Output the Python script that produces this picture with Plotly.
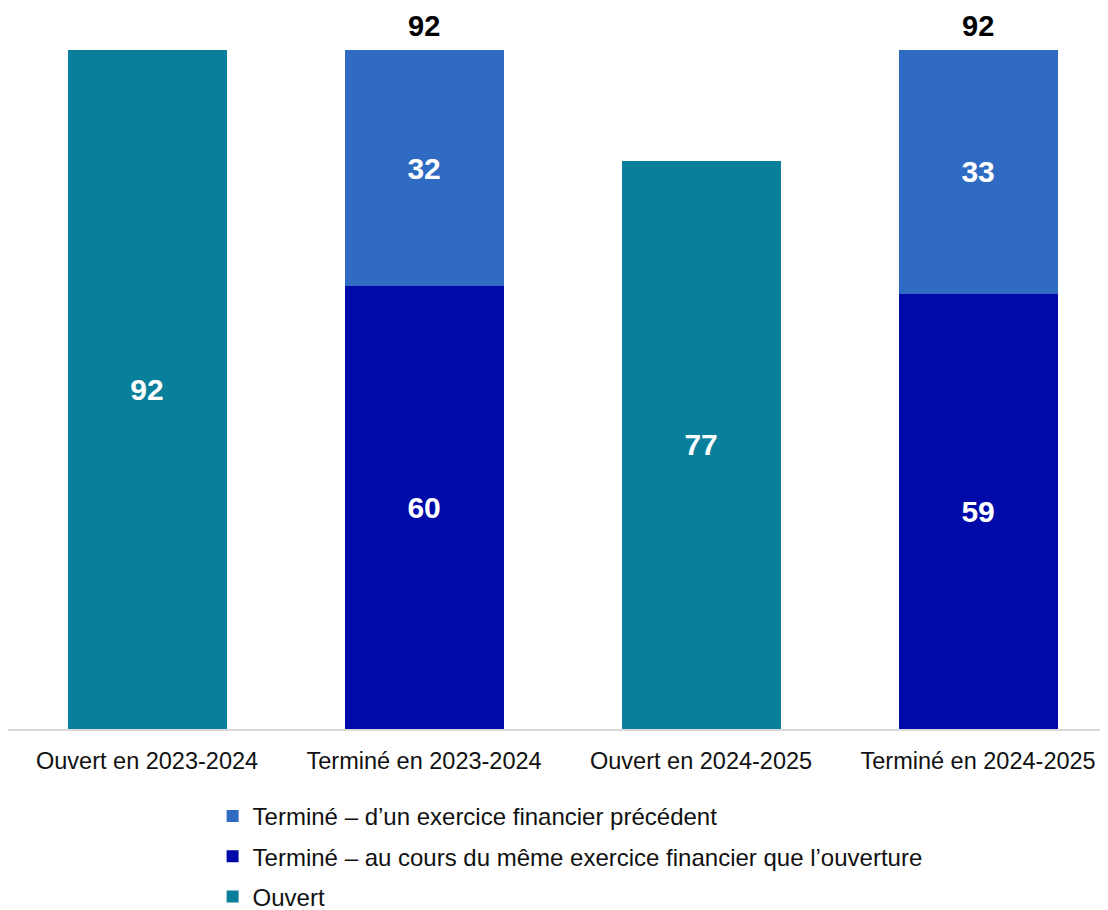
import plotly.graph_objects as go

categories = ["Ouvert en 2023-2024", "Terminé en 2023-2024", "Ouvert en 2024-2025", "Terminé en 2024-2025"]
ouvert = [92, None, 77, None]
meme_exercice = [None, 60, None, 59]
exercice_precedent = [None, 32, None, 33]
totals_idx = [1, 3]

names = {
    "ouvert": "Ouvert",
    "meme": "Terminé – au cours du même exercice financier que l’ouverture",
    "prec": "Terminé – d’un exercice financier précédent",
}

FONT = "Liberation Sans, Arial, sans-serif"
lbl = dict(family=FONT, size=30, color="white")

fig = go.Figure()
series = [
    (ouvert, names["ouvert"], "#0A7F9C", "g1", 3),
    (meme_exercice, names["meme"], "#000AA8", "g2", 2),
    (exercice_precedent, names["prec"], "#2F6BC2", "g3", 1),
]
for vals, nm, col, grp, rank in series:
    fig.add_trace(go.Bar(
        x=categories, y=vals, name=nm, marker=dict(color=col, line=dict(width=0)),
        text=[("<b>%d</b>" % v) if v is not None else "" for v in vals],
        textposition="inside", insidetextanchor="middle", textfont=lbl,
        legendgroup=grp, legendrank=rank, hoverinfo="skip",
    ))

for i in totals_idx:
    tot = sum(v for v in (ouvert[i], meme_exercice[i], exercice_precedent[i]) if v is not None)
    fig.add_annotation(x=categories[i], y=tot, text="<b>%d</b>" % tot, showarrow=False,
                       yanchor="bottom", yshift=7, borderpad=0,
                       font=dict(family=FONT, size=29, color="black"))

fig.update_layout(
    width=1100, height=902,
    margin=dict(l=0, r=0, t=42, b=181, autoexpand=False),
    barmode="stack", bargap=0.426,
    plot_bgcolor="white", paper_bgcolor="white",
    showlegend=True,
    legend=dict(orientation="v", x=0.186, xanchor="left", y=-0.0957, yanchor="top",
                traceorder="grouped", tracegroupgap=6,
                font=dict(family=FONT, size=24, color="#111111"), itemclick=False),
    xaxis=dict(range=[-0.502, 3.469], showline=True, linecolor="#D9D9D9", linewidth=1.5,
               tickfont=dict(family=FONT, size=23.5, color="#111111"), ticks="",
               ticklabelstandoff=10, fixedrange=True),
    yaxis=dict(range=[0, 92], visible=False, showgrid=False, fixedrange=True),
    uniformtext=dict(mode=False),
)

fig.write_html("out.html")
